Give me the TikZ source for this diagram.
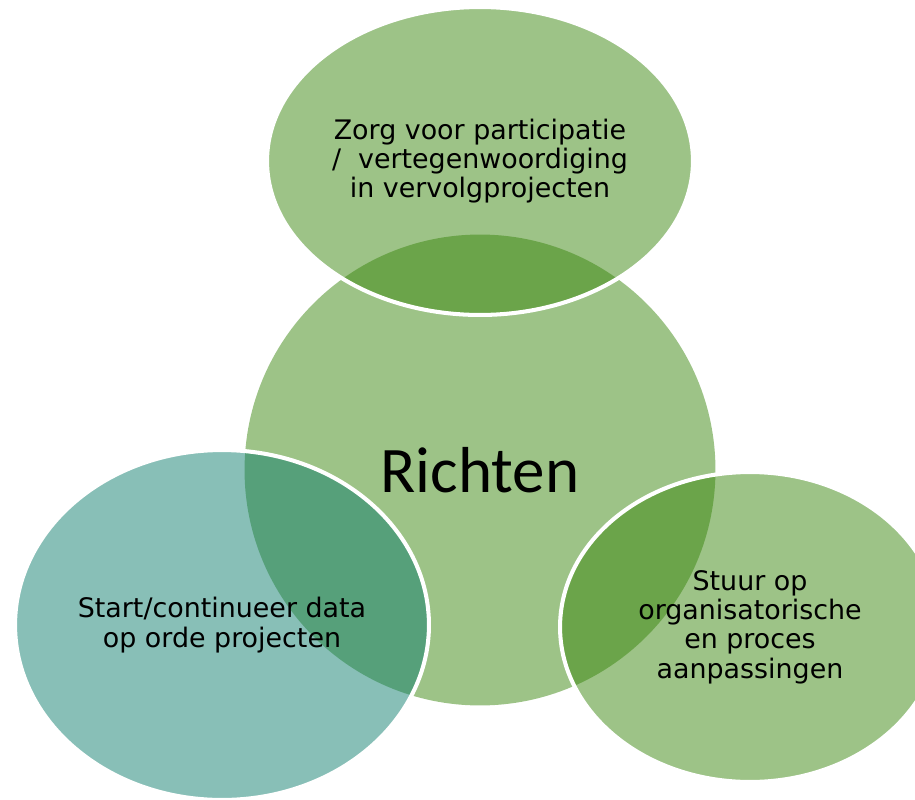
\documentclass[tikz,border=0pt]{standalone}
\usepackage{fontspec}
\setmainfont{DejaVu Sans}
\newfontfamily\richtenfont{Carlito}
\usetikzlibrary{shapes.geometric}
\usetikzlibrary{positioning}
\definecolor{lightgreen}{RGB}{157,195,135}
\definecolor{deepgreen}{RGB}{59,135,15}
\definecolor{deepteal}{RGB}{17,127,111}

\begin{document}
\begin{tikzpicture}[x=0.02cm,y=-0.02cm,every node/.style={ellipse,inner sep=-1cm,align=center,font=\fontsize{15.3}{16.7}\selectfont},
  sat/.style={fill opacity=0.5,text opacity=1,draw=white,line width=2.3pt}]
\useasboundingbox (0,0) rectangle (915,800);
\clip (0,0) rectangle (915,800);
  \node (richten) at (480,470)[fill=lightgreen,minimum width=9.42cm,minimum height=9.42cm,font=\richtenfont\fontsize{37}{44}\selectfont]{Richten};

  \node (zorg) at (480,161)[sat,fill=deepgreen,minimum width=8.52cm,minimum height=6.16cm]{Zorg voor participatie\\ /\ \ vertegenwoordiging\\ in vervolgprojecten};
\node (start) at (222,625)[sat,fill=deepteal,minimum width=8.28cm,minimum height=7cm]{Start/continueer data\\ op orde projecten};
\node (stuur) at (750,627)[sat,fill=deepgreen,minimum width=7.6cm,minimum height=6.2cm]{Stuur op\\ organisatorische\\ en proces\\ aanpassingen};
  \end{tikzpicture}
\end{document}
